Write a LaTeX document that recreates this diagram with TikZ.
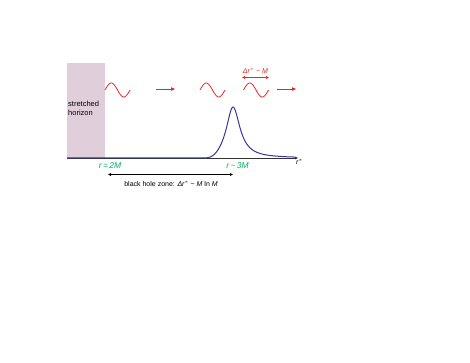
\documentclass[tikz,border=0pt]{standalone}
\usepackage{fontspec}
\setmainfont{Liberation Sans}
\usetikzlibrary{arrows.meta}
\definecolor{pinkbox}{RGB}{224,206,218}
\definecolor{curveblue}{RGB}{55,55,155}
\definecolor{wavered}{RGB}{235,35,35}
\definecolor{labgreen}{RGB}{0,180,90}
\tikzset{
  wave/.style={wavered, line width=0.8pt},
  redarrow/.style={wavered, line width=0.8pt, -{Triangle[length=4pt,width=3.4pt]}},
  reddouble/.style={wavered, line width=0.6pt, {Triangle[length=3pt,width=2.8pt]}-{Triangle[length=3pt,width=2.8pt]}},
  blackdouble/.style={black, line width=0.5pt, {Triangle[length=3pt,width=2.8pt]}-{Triangle[length=3pt,width=2.8pt]}},
  greenlab/.style={labgreen, font=\fontsize{8.5}{9}\selectfont\itshape, inner sep=0pt},
  smalltext/.style={font=\fontsize{7}{8}\selectfont, inner sep=0pt},
}
\begin{document}
\begin{tikzpicture}[x=1pt,y=-1pt]
\useasboundingbox (0,0) rectangle (470,363);
% stretched horizon box
\fill[pinkbox] (67,63) rectangle (105,158);
\node[font=\fontsize{7.5}{9}\selectfont, align=left, anchor=north west, inner sep=0pt] (sh) at (68,101) {stretched\\horizon};
% axis
\coordinate (ax0) at (67,158);
\coordinate (ax1) at (298,158);
\draw[black!80, line width=0.4pt, -{Triangle[length=3pt,width=2.6pt]}] (ax0) -- (ax1);
\node[font=\fontsize{7}{8}\selectfont\itshape, inner sep=0pt, anchor=west] (rstar) at (296,161.5) {r$^{*}$};
% potential curve
\draw[curveblue, line width=1pt]
  (67,158) -- (185,158)
  -- plot[domain=185:233, samples=80, smooth] (\x, {158 - 51*64/((\x-233)^2+64)*exp(-((\x-233)/20)^4)})
  -- plot[domain=233:295, samples=80, smooth] (\x, {158 - 51*72/((\x-233)^2+72)});
% waves
\draw[wave] plot[domain=0:1, samples=40, smooth] ({105+25*\x}, {90 - 7*sin(360*\x)});
\draw[wave] plot[domain=0:1, samples=40, smooth] ({200+25*\x}, {90 - 7*sin(360*\x)});
\draw[wave] plot[domain=0:1, samples=40, smooth] ({243.5+25*\x}, {90 - 7*sin(360*\x)});
% red arrows
\coordinate (a1s) at (156,89); \coordinate (a1e) at (175,89);
\coordinate (a2s) at (277,89); \coordinate (a2e) at (296,89);
\draw[redarrow] (a1s) -- (a1e);
\draw[redarrow] (a2s) -- (a2e);
% delta r ~ M
\coordinate (d1) at (242,77.5); \coordinate (d2) at (269,77.5);
\draw[reddouble] (d1) -- (d2);
\node[wavered, font=\fontsize{7}{8}\selectfont\itshape, inner sep=0pt] (dlab) at (255.5,70.5) {Δr$^{*}$ \textasciitilde{} M};
% green labels
\node[greenlab] (r2m) at (110,166) {r\,=\,2M};
\node[greenlab] (r3m) at (237.5,166) {r\,\textasciitilde\,3M};
% black hole zone arrow
\coordinate (z1) at (108,174.5); \coordinate (z2) at (233,174.5);
\draw[blackdouble] (z1) -- (z2);
\node[smalltext] (bhz) at (171,183.5) {black hole zone: \textit{Δr$^{*}$} \textasciitilde{} \textit{M} ln \textit{M}};
\end{tikzpicture}
\end{document}
